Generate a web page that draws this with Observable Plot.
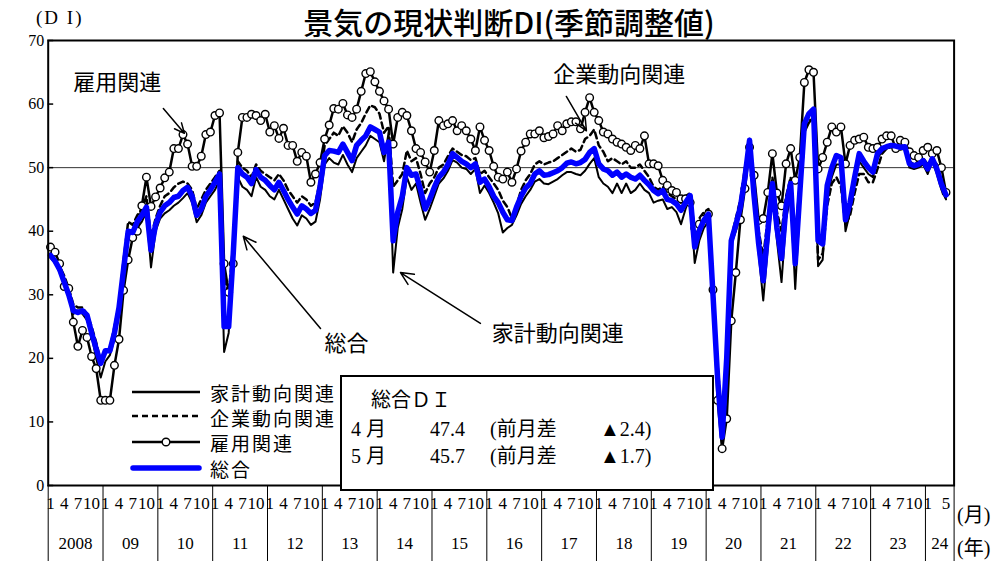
<!DOCTYPE html>
<html><head><meta charset="utf-8">
<script src="https://cdn.jsdelivr.net/npm/d3@7"></script>
<script src="https://cdn.jsdelivr.net/npm/@observablehq/plot@0.6"></script>
<style>
body{margin:0;background:#fff;}
#wrap{position:relative;width:1000px;height:561px;overflow:hidden;background:#fff;}
.abs{position:absolute;white-space:nowrap;line-height:1;color:#000;}
.sans{font-family:"Noto Sans CJK JP","Noto Sans",sans-serif;}
.serif{font-family:"Liberation Serif","Noto Sans CJK JP",serif;}
</style></head><body><div id="wrap"></div>
<script>
// ---- data (monthly, Jan 2008 – May 2024) ----
const startYear = 2008;
const totalDI = [
36.2,35.3,34.0,32.0,30.0,27.5,27.2,27.5,26.8,24.0,21.5,19.2,
21.2,21.2,24.0,28.0,34.0,40.0,39.8,41.5,42.5,43.8,37.0,41.0,
43.0,44.0,44.5,45.3,45.5,46.4,46.9,45.5,42.5,43.5,45.5,46.5,
47.7,49.0,25.0,25.0,36.5,50.0,49.0,48.5,47.5,49.7,48.5,48.0,
47.2,46.5,47.7,46.4,45.0,43.8,42.7,44.0,43.5,42.8,43.3,47.0,
51.9,52.7,52.6,52.4,53.7,52.4,51.1,53.5,54.3,55.0,56.4,56.0,
55.6,52.4,54.0,38.5,43.0,45.5,50.0,48.8,49.0,46.5,43.5,45.0,
46.9,48.5,49.3,50.5,52.2,51.6,51.0,50.6,50.0,50.6,47.7,48.2,
47.0,45.5,44.5,43.0,41.8,41.7,43.8,45.5,46.8,47.5,49.0,49.5,
48.8,48.9,49.2,49.5,50.0,50.7,50.9,50.6,50.8,51.3,52.4,53.0,
50.6,49.8,49.5,48.8,49.3,48.5,49.0,48.5,48.2,48.8,48.0,47.3,
46.4,45.9,46.4,45.0,44.8,44.3,43.3,44.5,45.6,37.5,40.1,41.7,
42.7,30.0,17.0,7.6,20.0,38.5,41.0,43.8,48.5,54.3,45.5,38.0,
32.2,40.0,47.5,40.5,35.7,44.0,47.5,34.9,46.0,56.9,58.5,59.2,
38.5,38.0,47.2,50.0,51.9,51.6,41.8,44.5,48.5,52.2,51.0,50.0,
49.3,52.2,53.0,53.3,53.5,53.4,53.2,53.3,50.6,50.3,50.5,51.1,
49.8,51.4,49.8,47.4,45.7];
const householdDI = [
35.8,35.0,33.5,31.5,29.5,27.0,27.5,27.0,26.0,23.5,20.0,17.0,
19.5,20.5,23.0,27.5,33.0,39.0,38.5,40.5,41.5,43.0,34.3,40.0,
42.0,42.8,43.3,44.0,44.5,45.2,46.0,44.5,41.4,42.5,44.5,45.5,
46.5,48.0,21.0,24.0,35.0,48.5,47.0,46.5,45.5,48.5,47.0,46.5,
45.5,45.0,46.5,45.0,43.5,42.0,40.9,42.5,42.0,41.0,41.5,45.0,
50.5,51.5,50.8,50.5,52.0,50.5,49.3,51.5,52.5,53.5,55.0,54.5,
54.0,51.0,55.5,33.5,40.5,43.5,48.5,46.5,47.5,44.5,41.8,43.5,
45.5,47.5,48.3,49.5,51.2,50.8,50.0,49.8,49.0,49.8,46.0,47.2,
46.0,44.5,42.8,39.8,40.5,41.0,42.5,44.3,45.5,46.5,47.8,48.2,
47.5,47.4,47.8,48.2,48.8,49.3,49.3,49.0,48.8,49.5,50.6,51.5,
48.5,47.5,47.0,46.0,47.5,46.0,47.5,46.0,46.5,47.5,46.5,46.0,
44.5,44.8,45.0,43.5,43.8,43.0,41.1,43.5,45.5,35.0,38.5,40.5,
41.5,29.0,15.5,6.0,19.5,38.0,40.0,42.5,47.0,53.5,45.0,36.5,
29.1,37.5,45.5,38.5,32.0,42.0,45.5,30.9,44.0,55.5,57.0,58.0,
34.5,35.5,45.5,48.5,50.5,50.5,40.0,43.0,47.5,51.0,50.0,49.0,
48.5,51.5,52.5,53.0,53.2,53.0,52.8,53.0,50.0,49.8,50.0,50.5,
49.0,51.0,49.0,46.5,45.0];
const corporateDI = [
36.5,35.5,34.5,33.0,31.0,28.5,28.0,28.0,27.0,25.0,22.5,19.5,
21.0,21.5,25.0,28.5,35.5,41.5,41.0,42.5,43.5,45.5,39.0,42.0,
44.0,45.5,46.0,46.9,47.5,47.8,47.5,46.5,43.5,45.0,46.5,47.5,
48.5,49.5,33.0,30.0,38.0,51.0,50.0,49.5,48.5,50.5,49.5,49.0,
48.5,48.0,49.0,48.0,46.5,45.5,44.5,45.5,45.0,44.0,44.5,48.0,
53.5,54.5,55.5,55.0,56.5,55.5,54.0,56.0,57.0,58.5,59.8,59.5,
58.5,55.5,56.5,47.0,48.0,49.0,52.7,51.0,51.5,49.0,46.0,47.5,
48.5,50.0,50.5,51.8,53.0,52.5,52.0,51.8,51.2,51.5,49.0,49.5,
48.5,47.5,46.5,44.8,43.8,42.0,44.0,46.5,48.0,49.0,50.5,51.0,
50.5,50.8,51.0,51.5,52.0,52.5,53.0,52.5,52.8,54.5,55.0,56.0,
53.5,52.5,51.0,51.5,51.0,50.5,51.0,50.0,50.0,50.5,49.5,48.5,
47.0,46.5,47.0,46.0,45.5,45.0,44.5,45.5,46.0,40.0,42.0,43.0,
43.5,32.0,19.0,10.0,21.0,39.0,42.0,45.0,50.0,54.5,46.5,40.0,
36.0,42.0,48.5,43.0,40.0,45.5,48.5,39.0,47.5,56.0,57.5,57.5,
35.5,36.5,44.0,47.5,48.5,47.0,41.0,42.5,46.0,49.0,49.0,47.7,
47.7,49.8,52.2,53.0,53.3,53.5,53.2,53.3,51.0,50.5,51.0,51.5,
50.5,51.5,50.5,48.0,45.1];
const employmentDI = [
37.5,36.7,34.9,31.3,31.0,25.7,21.9,24.4,23.3,20.3,18.4,13.4,
13.4,13.4,18.9,23.0,30.7,35.5,39.0,40.0,44.0,48.5,43.9,45.4,
46.8,48.4,49.3,53.0,53.0,55.2,53.7,50.2,50.2,51.8,55.2,55.6,
58.2,58.6,34.9,30.4,34.9,52.4,57.9,57.9,58.4,58.2,57.4,58.4,
55.6,56.6,54.6,56.2,53.5,53.5,51.0,52.4,51.8,47.7,49.0,50.8,
54.5,56.7,59.3,59.2,60.1,58.3,57.9,59.2,62.0,64.8,65.1,63.5,
62.0,60.5,59.2,53.7,57.9,58.7,58.2,55.8,53.0,52.4,50.9,49.3,
52.7,57.4,56.6,56.9,57.4,55.8,56.6,55.8,54.5,52.7,56.4,54.3,
52.7,50.2,48.5,48.2,49.3,47.7,49.8,52.6,54.0,55.3,55.3,55.8,
54.7,54.9,55.3,56.6,55.8,56.9,57.2,57.2,56.1,58.7,61.0,58.7,
57.4,55.6,55.3,54.5,54.0,53.7,53.2,52.7,53.5,53.0,55.0,50.6,
50.6,50.3,48.0,47.2,46.4,46.1,45.1,45.1,44.5,40.5,41.1,41.9,
42.7,30.8,13.4,5.8,10.5,25.9,33.5,41.8,46.7,53.2,48.8,41.7,
42.0,46.1,52.2,46.0,44.0,50.6,53.0,48.0,51.6,63.4,65.4,65.0,
49.8,51.6,54.0,56.4,55.6,56.4,50.6,53.5,54.3,54.5,54.8,53.2,
53.0,53.2,54.5,55.0,55.0,53.0,54.3,54.0,52.5,51.9,51.6,52.7,
53.2,52.2,52.7,50.0,46.1];
const monthTickLabels = ["1","4","7","10"];
const lastYearMonthLabels = ["1","5"];
const yearLabels = ["2008","09","10","11","12","13","14","15","16","17","18","19","20","21","22","23","24"];
const yTicks = [0,10,20,30,40,50,60,70];
const seriesNames = ["家計動向関連","企業動向関連","雇用関連","総合"];
const annotations = [
  {text:"雇用関連", tx:14.6, ty:63.3, x1:24.7, y1:59.3, x2:29.3, y2:55.4},
  {text:"企業動向関連", tx:124.5, ty:64.6, x1:112.9, y1:61.2, x2:117.3, y2:55.8},
  {text:"総合", tx:64.8, ty:22.2, x1:59.1, y1:24.7, x2:42.2, y2:39.2},
  {text:"家計動向関連", tx:111.0, ty:23.9, x1:94.1, y1:25.5, x2:76.6, y2:33.5}
];
const boxTitle = "総合ＤＩ";
const boxRows = [
  {m:"4 月", v:"47.4", diff:"▲2.4"},
  {m:"5 月", v:"45.7", diff:"▲1.7"}
];

// ---- derived tables ----
const rows = totalDI.map((v,i)=>({i, total:v, household:householdDI[i], corporate:corporateDI[i], employment:employmentDI[i]}));
const nYears = yearLabels.length;
const xMax = 197.77;
const monthTicks = [];
for (let k=0;k<nYears-1;k++) monthTickLabels.forEach(l=>monthTicks.push({i:k*12+(+l)-1, label:l}));
lastYearMonthLabels.forEach(l=>monthTicks.push({i:(nYears-1)*12+(+l)-1, label:l}));
const bounds = yearLabels.map((_,k)=>k*12-0.5).concat([xMax]);
const yearTicks = yearLabels.map((l,k)=>({x:(bounds[k]+bounds[k+1])/2, label:l}));

const serif = "'Liberation Serif', serif";
const cjk = "'Noto Sans CJK JP', sans-serif";

const chart = Plot.plot({
  width:1000, height:561,
  marginLeft:47.7, marginRight:46.4, marginTop:40, marginBottom:76,
  style:{background:"transparent", fontFamily:serif, fontSize:"16px", color:"#000", overflow:"visible"},
  x:{type:"linear", domain:[-0.5,xMax], axis:null},
  y:{domain:[0,70], ticks:yTicks, tickSize:0, tickPadding:4, label:null},
  marks:[
    Plot.ruleY([50],{stroke:"#333",strokeWidth:1}),
    Plot.ruleY(yTicks,{x1:-0.5,x2:0.7,stroke:"#000",strokeWidth:1.5}),
    Plot.line(rows,{x:"i",y:"household",stroke:"#000",strokeWidth:2}),
    Plot.line(rows,{x:"i",y:"corporate",stroke:"#000",strokeWidth:2.5,strokeDasharray:"6,4"}),
    Plot.line(rows,{x:"i",y:"employment",stroke:"#000",strokeWidth:2.5}),
    Plot.dot(rows,{x:"i",y:"employment",r:3.8,fill:"#fff",stroke:"#000",strokeWidth:1.4}),
    Plot.line(rows,{x:"i",y:"total",stroke:"#0000ff",strokeWidth:5.5}),
    Plot.arrow(annotations,{x1:"x1",y1:"y1",x2:"x2",y2:"y2",stroke:"#000",strokeWidth:1.5,headLength:14,headAngle:50}),
    Plot.text(annotations,{x:"tx",y:"ty",text:"text",fontSize:22,fontFamily:cjk,fill:"#000"}),
    Plot.ruleX(bounds,{x:d=>d,y1:0,y2:-12,stroke:"#000",strokeWidth:1}),
    Plot.text(monthTicks,{x:"i",text:"label",frameAnchor:"bottom",dy:23,fontSize:17,fontFamily:serif}),
    Plot.text(yearTicks,{x:"x",text:"label",frameAnchor:"bottom",dy:63,fontSize:17,fontFamily:serif}),
    Plot.frame({stroke:"#000",strokeWidth:2})
  ]
});
chart.style.position="absolute"; chart.style.left="0"; chart.style.top="0";
const wrap = document.getElementById("wrap");
wrap.appendChild(chart);

function add(html, css, cls){const d=document.createElement("div");d.className="abs "+(cls||"");d.textContent=html;Object.assign(d.style,css);wrap.appendChild(d);return d;}
// title
add("景気の現状判断DI(季節調整値)",{left:"0",width:"1018px",textAlign:"center",top:"6px",fontSize:"30px",fontWeight:"500"},"sans");
add("(D I)",{left:"36px",top:"8px",fontSize:"19px",letterSpacing:"2px"},"serif");
add("(月)",{left:"957px",top:"505px",fontSize:"20px"},"serif");
add("(年)",{left:"957px",top:"538px",fontSize:"20px"},"serif");

// legend
const legendSvg = `<svg width="80" height="100" style="position:absolute;left:130px;top:380px;overflow:visible">
<line x1="2" x2="70" y1="12" y2="12" stroke="#000" stroke-width="2.5"/>
<line x1="2" x2="70" y1="36" y2="36" stroke="#000" stroke-width="2.5" stroke-dasharray="6,4"/>
<line x1="2" x2="70" y1="62" y2="62" stroke="#000" stroke-width="2.5"/>
<circle cx="36" cy="62" r="3.8" fill="#fff" stroke="#000" stroke-width="1.4"/>
<line x1="3" x2="69" y1="88" y2="88" stroke="#0000ff" stroke-width="5.5" stroke-linecap="round"/>
</svg>`;
const lg=document.createElement("div");lg.innerHTML=legendSvg;wrap.appendChild(lg.firstElementChild);
seriesNames.forEach((n,k)=>add(n,{left:"210px",top:(383+k*25.2)+"px",fontSize:"19px",letterSpacing:"2px"},"sans"));

// summary box
add("",{left:"340px",top:"375px",width:"370px",height:"112px",border:"2px solid #000",background:"#fff"});
add(boxTitle,{left:"371px",top:"390px",fontSize:"20px"},"serif");
boxRows.forEach((r,k)=>{
  const top=(419+k*26.5)+"px";
  add(r.m,{left:"351px",top,fontSize:"20px"},"serif");
  add(r.v,{left:"430px",top,fontSize:"20px"},"serif");
  add("(前月差",{left:"490px",top,fontSize:"20px"},"serif");
  add(r.diff+")",{left:"600px",top,fontSize:"20px"},"serif");
});
</script></body></html>
